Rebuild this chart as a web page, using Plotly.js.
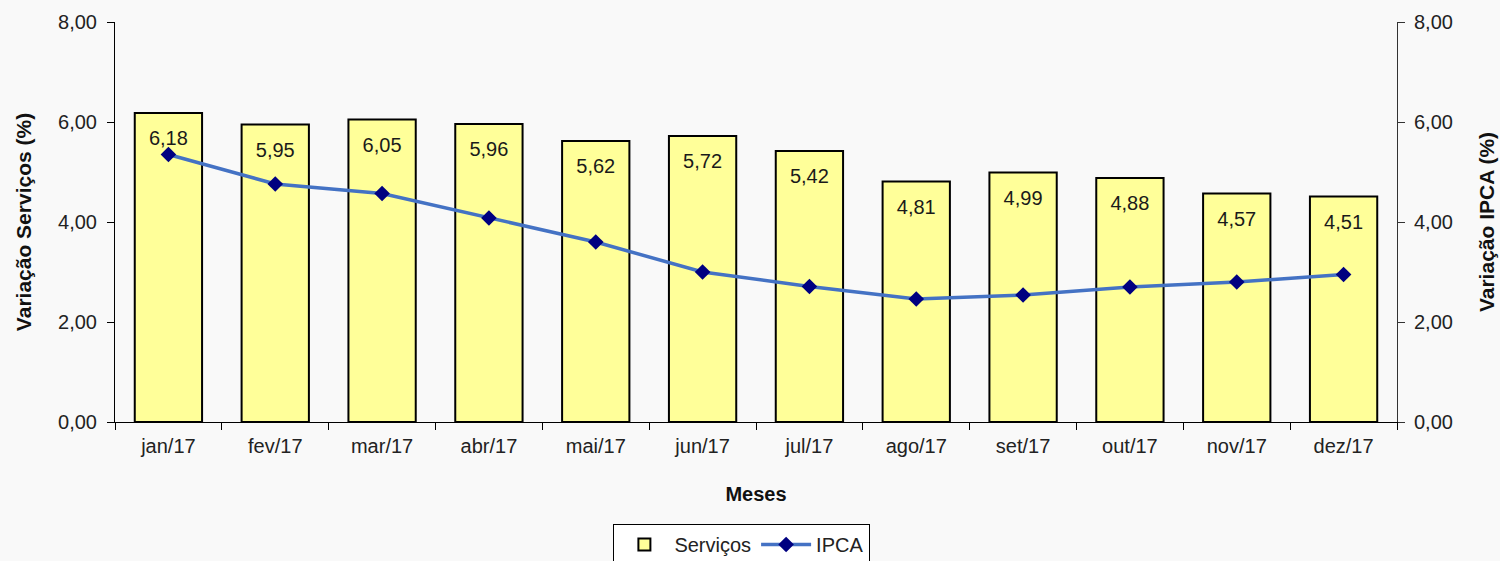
<!DOCTYPE html>
<html>
<head>
<meta charset="utf-8">
<script src="https://cdn.plot.ly/plotly-3.0.1.min.js"></script>
<style>html,body{margin:0;padding:0;background:#f9f9f9;}</style>
</head>
<body>
<div id="chart" style="width:1500px;height:561px;"></div>
<script>
const meses = ['jan/17','fev/17','mar/17','abr/17','mai/17','jun/17','jul/17','ago/17','set/17','out/17','nov/17','dez/17'];
const servicos = [6.18, 5.95, 6.05, 5.96, 5.62, 5.72, 5.42, 4.81, 4.99, 4.88, 4.57, 4.51];
const ipca = [5.35, 4.76, 4.57, 4.08, 3.60, 3.00, 2.71, 2.46, 2.54, 2.70, 2.80, 2.95];
const yTicks = [0, 2, 4, 6, 8];

const fontFam = '"Liberation Sans", Arial, sans-serif';
const servLabels = servicos.map(v => v.toFixed(2).replace('.', ','));

const traces = [
  {
    type: 'bar', name: 'Serviços', x: meses, y: servicos,
    marker: {color: '#ffff99', line: {color: '#000000', width: 2}},
    width: 0.63, yaxis: 'y', hoverinfo: 'skip'
  },
  {
    type: 'scatter', mode: 'markers+text', x: meses, y: servicos, text: servLabels,
    textposition: 'bottom center', marker: {size: 26, opacity: 0},
    textfont: {family: fontFam, size: 20, color: '#1a1a1a'},
    showlegend: false, yaxis: 'y', hoverinfo: 'skip'
  },
  {
    type: 'scatter', mode: 'lines+markers', name: 'IPCA', x: meses, y: ipca,
    line: {color: '#4472c4', width: 3.5},
    marker: {symbol: 'diamond', size: 12, color: '#000080'},
    yaxis: 'y2', hoverinfo: 'skip'
  }
];

const axisFont = {family: fontFam, size: 20, color: '#222222'};
const titleFont = {family: fontFam, size: 20, color: '#111111', weight: 'bold'};
const yTitleFont = {family: fontFam, size: 21, color: '#111111', weight: 'bold'};
const xRange = [-0.5, meses.length - 0.5];

const layout = {
  width: 1500, height: 561,
  paper_bgcolor: '#f9f9f9', plot_bgcolor: '#f9f9f9',
  margin: {l: 115, r: 103, t: 22, b: 139, autoexpand: false},
  separators: ',.',
  font: {family: fontFam},
  xaxis: {
    type: 'category', range: xRange, automargin: false,
    showgrid: false, showline: true, linecolor: '#000', linewidth: 1,
    ticks: 'outside', tickson: 'boundaries', ticklen: 7, tickcolor: '#000', tickwidth: 1,
    tickfont: axisFont, ticklabelstandoff: 6, zeroline: false,
    title: {text: 'Meses', font: titleFont, standoff: 30}
  },
  xaxis3: {
    type: 'category', overlaying: 'x', matches: 'x', anchor: 'y', showgrid: false,
    ticks: 'inside', tickson: 'boundaries', ticklen: 7, tickcolor: '#000',
    showticklabels: false, showline: false, zeroline: false
  },
  yaxis: {
    range: [0, 8], tickvals: yTicks, tickformat: '.2f', showgrid: false, zeroline: false,
    automargin: false, showline: true, linecolor: '#000', linewidth: 1,
    ticks: 'outside', ticklen: 7, tickcolor: '#000', tickfont: axisFont, ticklabelstandoff: 6,
    title: {text: 'Variação Serviços (%)', font: yTitleFont, standoff: 20}
  },
  yaxis2: {
    range: [0, 8], tickvals: yTicks, tickformat: '.2f', overlaying: 'y', side: 'right',
    automargin: false, showgrid: false, zeroline: false, showline: true, linecolor: '#333', linewidth: 1,
    ticks: 'outside', ticklen: 7, tickcolor: '#333', tickfont: axisFont, ticklabelstandoff: 5,
    title: {text: 'Variação IPCA (%)', font: yTitleFont, standoff: 27}
  },
  yaxis3: {
    range: [0, 8], tickvals: yTicks, overlaying: 'y', side: 'left', showgrid: false, zeroline: false,
    ticks: 'inside', ticklen: 7, tickcolor: '#000', showticklabels: false, showline: false
  },
  yaxis4: {
    range: [0, 8], tickvals: yTicks, overlaying: 'y', side: 'right', showgrid: false, zeroline: false,
    ticks: 'inside', ticklen: 7, tickcolor: '#333', showticklabels: false, showline: false
  },
  showlegend: true,
  legend: {
    orientation: 'h', x: 0.489, xanchor: 'center', y: -0.255, yanchor: 'top',
    bgcolor: '#ffffff', bordercolor: '#000', borderwidth: 1,
    font: {family: fontFam, size: 20, color: '#222'}, itemwidth: 50
  }
};

Plotly.newPlot('chart', traces, layout, {displayModeBar: false, staticPlot: true});
</script>
</body>
</html>
